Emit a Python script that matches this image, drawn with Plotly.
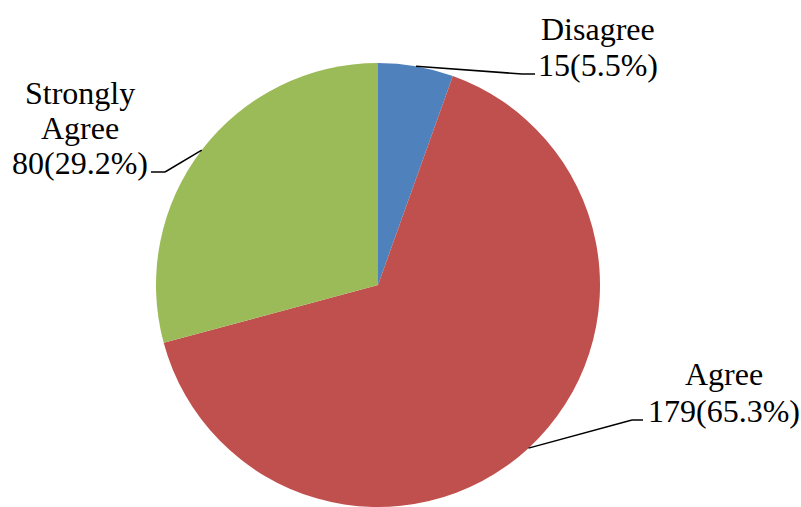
import math
import plotly.graph_objects as go

# ---- data ----
categories = ["Disagree", "Agree", "Strongly Agree"]
counts = [15, 179, 80]
percents = [5.5, 65.3, 29.2]
colors = ["#4F81BD", "#C0504D", "#9BBB59"]

# ---- layout constants ----
W, H = 801, 507
CX, CY, R = 378, 285, 222
FS = 32
FONT = "Liberation Serif"

label_layout = {
    "Disagree": dict(x=598, lines=["Disagree"], base=[38, 74], elbow=(522, 74), end=(535, 74)),
    "Agree": dict(x=724, lines=["Agree"], base=[383, 420], elbow=(632, 420), end=(643, 420)),
    "Strongly Agree": dict(x=80, lines=["Strongly", "Agree"], base=[102, 137, 172], elbow=(165, 172), end=(151, 172)),
}

def px(x):
    return x / W

def py(y):
    return 1 - y / H

fig = go.Figure(go.Pie(
    labels=categories,
    values=counts,
    marker=dict(colors=colors, line=dict(width=0)),
    sort=False,
    direction="clockwise",
    rotation=0,
    textinfo="none",
    showlegend=False,
    domain=dict(x=[px(CX - R), px(CX + R)], y=[py(CY + R), py(CY - R)]),
))

total = sum(counts)
cum = 0
for cat, c, p in zip(categories, counts, percents):
    mid = (cum + c / 2) / total * 2 * math.pi
    cum += c
    sx = CX + R * math.sin(mid)
    sy = CY - R * math.cos(mid)
    L = label_layout[cat]
    texts = L["lines"] + [f"{c}({p}%)"]
    for t, b in zip(texts, L["base"]):
        fig.add_annotation(
            x=px(L["x"]), y=py(b - 0.28 * FS), xref="paper", yref="paper",
            text=t, showarrow=False, xanchor="center", yanchor="middle",
            font=dict(family=FONT, size=FS, color="black"),
        )
    ex, ey = L["elbow"]
    tx, ty = L["end"]
    fig.add_shape(type="line", xref="paper", yref="paper",
                  x0=px(sx), y0=py(sy), x1=px(ex), y1=py(ey),
                  line=dict(color="black", width=1.5))
    fig.add_shape(type="line", xref="paper", yref="paper",
                  x0=px(ex), y0=py(ey), x1=px(tx), y1=py(ty),
                  line=dict(color="black", width=1.5))

fig.update_layout(
    width=W, height=H,
    margin=dict(l=0, r=0, t=0, b=0),
    paper_bgcolor="white", plot_bgcolor="white",
)

fig.write_html("out.html")
